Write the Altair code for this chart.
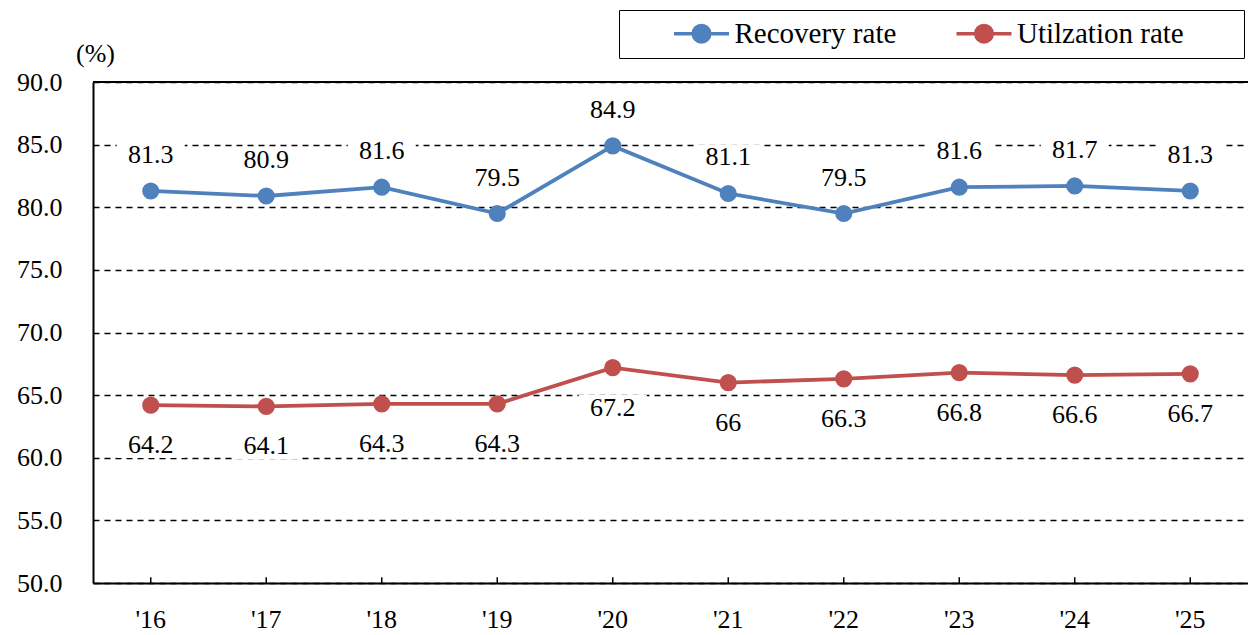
import altair as alt
import pandas as pd

years = ["'16", "'17", "'18", "'19", "'20", "'21", "'22", "'23", "'24", "'25"]
recovery = [81.3, 80.9, 81.6, 79.5, 84.9, 81.1, 79.5, 81.6, 81.7, 81.3]
utilization = [64.2, 64.1, 64.3, 64.3, 67.2, 66, 66.3, 66.8, 66.6, 66.7]
series_names = ["Recovery rate", "Utilzation rate"]
colors = ["#4F81BD", "#C0504D"]
y_ticks = [50, 55, 60, 65, 70, 75, 80, 85, 90]

rows = []
for s, vals in zip(series_names, [recovery, utilization]):
    for yr, v in zip(years, vals):
        rows.append({"year": yr, "series": s, "value": v, "label": f"{v:g}"})
df = pd.DataFrame(rows)
df_rec = df[df.series == series_names[0]]
df_utl = df[df.series == series_names[1]]

FONT = "'Liberation Serif', 'DejaVu Serif', serif"
FS = 26
W, H = 1155, 501
TRAIL = "\u00a0" * 7 + "\u200b"

x_enc = alt.X(
    "year:N", sort=years,
    axis=alt.Axis(title=None, labelFont=FONT, labelFontSize=FS, labelColor="black",
                  labelPadding=23, labelAngle=0, ticks=False, domainColor="black",
                  domainWidth=2, grid=False),
)
y_scale = alt.Scale(domain=[50, 90], nice=False, zero=False)
y_enc = alt.Y(
    "value:Q", scale=y_scale,
    axis=alt.Axis(values=y_ticks, format=".1f", title="(%)", titleAngle=0,
                  titleX=2, titleY=-29, titleAlign="center", titleBaseline="middle",
                  titleFont=FONT, titleFontSize=FS, titleFontWeight="normal",
                  titleColor="black", labelFont=FONT, labelFontSize=FS,
                  labelColor="black", labelPadding=31, ticks=False,
                  domainColor="black", domainWidth=2, grid=True, gridColor="black",
                  gridDash=[6, 5], gridWidth=1.4, gridOpacity=1),
)

color_scale = alt.Scale(domain=series_names, range=colors)

LEG_PATH = ("M-2.75,0L2.75,0M-0.825,0A0.825,0.825,0,1,1,0.825,0"
            "A0.825,0.825,0,1,1,-0.825,0Z")
leg = alt.Legend(title=" ", titleOrient="left", titleFontSize=1, titlePadding=59,
                 orient="none", legendX=526, legendY=-72,
                 direction="horizontal", symbolType=LEG_PATH, symbolSize=400,
                 symbolStrokeWidth=3.5, labelFont=FONT, labelFontSize=29,
                 labelColor="black", labelOffset=18.5, labelLimit=600,
                 labelExpr=f"datum.label + (datum.label == '{series_names[1]}' ? '{TRAIL}' : '')",
                 columnPadding=52.5, padding=9,
                 strokeColor="black", fillColor="white")

top_rule = alt.Chart(pd.DataFrame({"v": [90]})).mark_rule(
    color="black", strokeWidth=2).encode(y=alt.Y("v:Q", scale=y_scale))

ticks = alt.Chart(pd.DataFrame({"year": years})).mark_rule(
    color="black", strokeWidth=1.5).encode(
    x=alt.X("year:N", sort=years), y=alt.datum(50), y2=alt.datum(50.45))

line = alt.Chart(df).mark_line(strokeWidth=3.8).encode(
    x=x_enc, y=y_enc,
    stroke=alt.Stroke("series:N", scale=color_scale, legend=leg),
)

points = alt.Chart(df).mark_point(filled=True, opacity=1, size=201, strokeWidth=3).encode(
    x=alt.X("year:N", sort=years), y=alt.Y("value:Q", scale=y_scale),
    fill=alt.Fill("series:N", scale=color_scale, legend=leg),
    stroke=alt.Stroke("series:N", scale=color_scale, legend=leg),
)

BOX = "M-1,-0.38L1,-0.38L1,0.38L-1,0.38Z"

def label_layers(d, off):
    bg = alt.Chart(d).mark_point(shape=BOX, size=4624, filled=True, fill="white",
                                 opacity=1, strokeWidth=0, yOffset=off).encode(
        x=alt.X("year:N", sort=years), y=alt.Y("value:Q", scale=y_scale))
    tx = alt.Chart(d).mark_text(font=FONT, fontSize=FS, color="black",
                                baseline="middle", align="center", dy=off).encode(
        x=alt.X("year:N", sort=years), y=alt.Y("value:Q", scale=y_scale), text="label:N")
    return bg, tx

bg1, tx1 = label_layers(df_rec, -36)
bg2, tx2 = label_layers(df_utl, 40)

chart = alt.layer(line, top_rule, ticks, bg1, bg2, tx1, tx2, points).properties(
    width=W, height=H,
    autosize=alt.AutoSizeParams(type="none"),
    padding={"left": 93, "top": 82, "right": 0, "bottom": 52},
    background="white",
).configure_view(stroke=None)

chart.save("out.html", embed_options={"renderer": "svg", "actions": False})
